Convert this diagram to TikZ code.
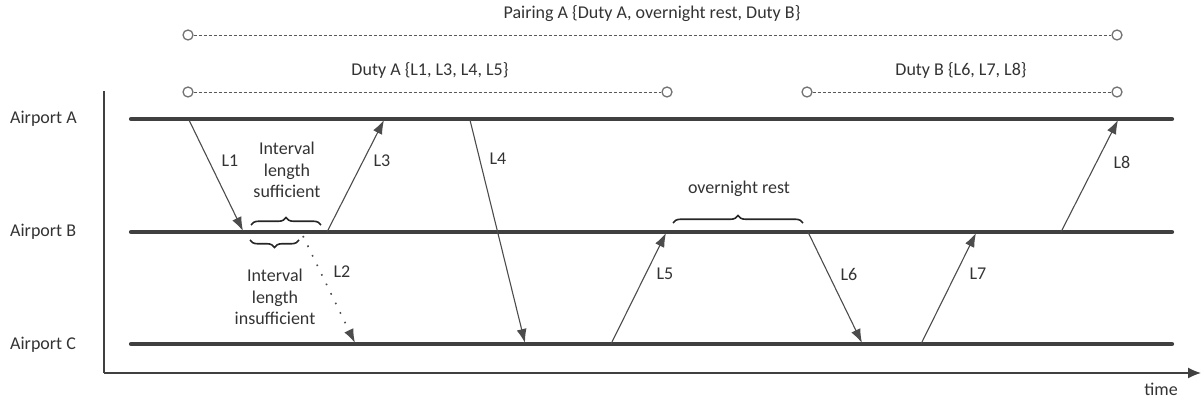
\documentclass[tikz,border=0pt]{standalone}
\usepackage{fontspec}
\setmainfont{Carlito}
\usetikzlibrary{arrows.meta,decorations.pathreplacing}
\begin{document}
\begin{tikzpicture}[x=1pt,y=-1pt,
  txt/.style={font=\fontsize{18}{21.5}\selectfont, text=black!80, inner sep=0pt},
  airline/.style={line width=4.2pt, draw=black!75, line cap=round},
  leg/.style={line width=1.1pt, draw=black!70, -{Latex[length=14pt,width=10pt]}},
  dotleg/.style={line width=1.6pt, draw=black!70, dash pattern=on 1.6pt off 9pt, -{Latex[length=14pt,width=10pt]}},
  span/.style={line width=0.9pt, draw=black!65, dash pattern=on 3pt off 2pt},
  endpt/.style={circle, draw=black!55, line width=1.3pt, fill=white, minimum size=10pt, inner sep=0pt},
  axis/.style={line width=1.3pt, draw=black!75},
  bracebar/.style={line width=1.6pt, draw=black!85, decorate, decoration={brace, amplitude=7.5pt}}
]
\useasboundingbox (0,0) rectangle (1203,403);

% airport labels
\node[txt, anchor=west] (la) at (10,119) {Airport A};
\node[txt, anchor=west] (lb) at (10,232) {Airport B};
\node[txt, anchor=west] (lc) at (10,345) {Airport C};

% airport time lines
\coordinate (aS) at (131,119); \coordinate (aE) at (1172,119);
\coordinate (bS) at (131,232); \coordinate (bE) at (1172,232);
\coordinate (cS) at (131,344); \coordinate (cE) at (1172,344);
\draw[airline] (aS) -- (aE);
\draw[airline] (bS) -- (bE);
\draw[airline] (cS) -- (cE);

% time axis
\coordinate (orig) at (104,373);
\coordinate (ytop) at (104,91);
\coordinate (xend) at (1201,373);
\draw[axis] (ytop) -- (orig);
\draw[axis, -{Latex[length=13pt,width=11pt]}] (orig) -- (xend);
\node[txt, anchor=north east] (tl) at (1178,383) {time};

% pairing and duties
\node[endpt] (p1) at (188,35) {};
\node[endpt] (p2) at (1117,35) {};
\draw[span] (p1) -- (p2);
\node[txt] (pl) at (652,14) {Pairing A \{Duty A, overnight rest, Duty B\}};

\node[endpt] (da1) at (188,92) {};
\node[endpt] (da2) at (667,92) {};
\draw[span] (da1) -- (da2);
\node[txt] (dal) at (430,70) {Duty A \{L1, L3, L4, L5\}};

\node[endpt] (db1) at (807,92) {};
\node[endpt] (db2) at (1117,92) {};
\draw[span] (db1) -- (db2);
\node[txt] (dbl) at (961,70) {Duty B \{L6, L7, L8\}};

% leg end points
\coordinate (l1s) at (189,120); \coordinate (l1e) at (243,231);
\coordinate (l3s) at (327,232); \coordinate (l3e) at (384,120);
\coordinate (l2s) at (303,236); \coordinate (l2e) at (355,343);
\coordinate (l4s) at (470,120); \coordinate (l4e) at (525,343);
\coordinate (l5s) at (611,344); \coordinate (l5e) at (666,233);
\coordinate (l6s) at (808,232); \coordinate (l6e) at (862,343);
\coordinate (l7s) at (921,344); \coordinate (l7e) at (976,233);
\coordinate (l8s) at (1061,232); \coordinate (l8e) at (1118,120);

\draw[leg] (l1s) -- (l1e);
\draw[leg] (l3s) -- (l3e);
\draw[dotleg] (l2s) -- (l2e);
\draw[leg] (l4s) -- (l4e);
\draw[leg] (l5s) -- (l5e);
\draw[leg] (l6s) -- (l6e);
\draw[leg] (l7s) -- (l7e);
\draw[leg] (l8s) -- (l8e);

\node[txt] (t1) at (230,161) {L1};
\node[txt] (t3) at (382,161) {L3};
\node[txt] (t2) at (342,272) {L2};
\node[txt] (t4) at (498,159) {L4};
\node[txt] (t5) at (665,274) {L5};
\node[txt] (t6) at (849,274) {L6};
\node[txt] (t7) at (978,274) {L7};
\node[txt] (t8) at (1122,162) {L8};

% connection intervals
\coordinate (s1) at (251,225); \coordinate (s2) at (321,225);
\draw[bracebar] (s1) -- (s2);
\node[txt, align=center] (sl) at (287,170) {Interval\\length\\sufficient};

\coordinate (i1) at (299,240); \coordinate (i2) at (250,240);
\draw[bracebar] (i1) -- (i2);
\node[txt, align=center] (il) at (275,297) {Interval\\length\\insufficient};

\coordinate (r1) at (673,223); \coordinate (r2) at (803,223);
\draw[bracebar] (r1) -- (r2);
\node[txt] (rl) at (739,189) {overnight rest};
\end{tikzpicture}
\end{document}
